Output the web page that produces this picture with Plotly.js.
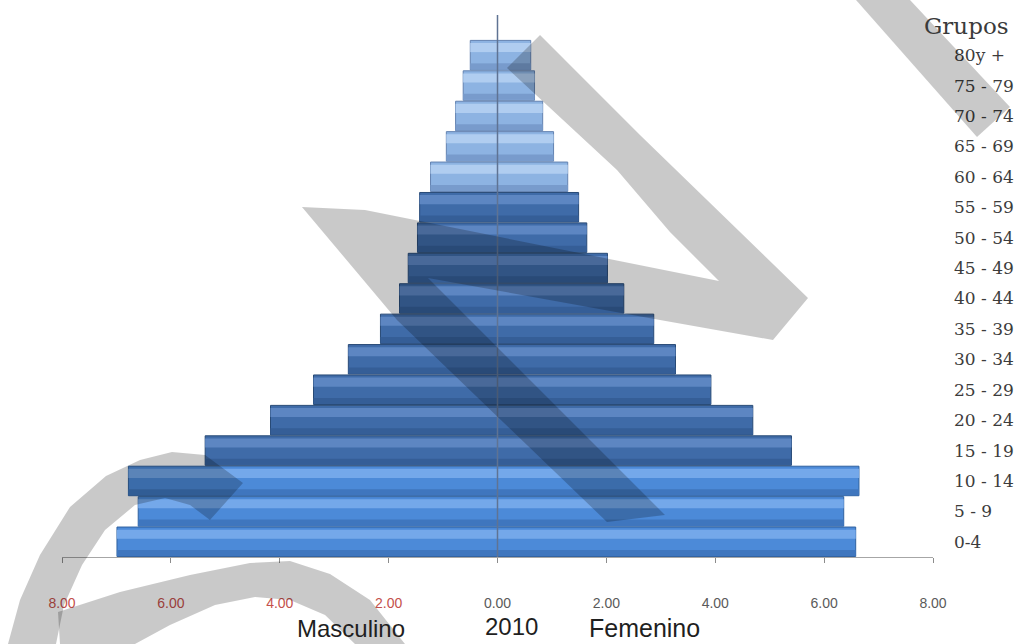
<!DOCTYPE html>
<html><head><meta charset="utf-8">
<script src="https://cdn.plot.ly/plotly-3.0.1.min.js"></script>
<style>html,body{margin:0;padding:0;background:#fff}#chart{width:1023px;height:644px}</style>
</head><body><div id="chart"></div>
<script>
// ---------- data (bottom to top) ----------
const ageGroups = ['0-4','5 - 9','10 - 14','15 - 19','20 - 24','25 - 29','30 - 34','35 - 39','40 - 44','45 - 49','50 - 54','55 - 59','60 - 64','65 - 69','70 - 74','75 - 79','80y +'];
const masculino = [6.99, 6.60, 6.78, 5.37, 4.17, 3.38, 2.74, 2.15, 1.80, 1.64, 1.47, 1.43, 1.23, 0.94, 0.77, 0.63, 0.50];
const femenino  = [6.58, 6.36, 6.64, 5.40, 4.69, 3.92, 3.27, 2.87, 2.32, 2.02, 1.64, 1.49, 1.29, 1.03, 0.83, 0.68, 0.61];
const tickValues = [-8, -6, -4, -2, 0, 2, 4, 6, 8];
const tickLabels = ['8.00', '6.00', '4.00', '2.00', '0.00', '2.00', '4.00', '6.00', '8.00'];
const leftTitle = 'Masculino', yearTitle = '2010', rightTitle = 'Femenino', groupsTitle = 'Grupos';

// ---------- styles ----------
const W = 1023, H = 644, M = {l: 62, r: 90, t: 15, b: 87};
const PW = W - M.l - M.r, PH = H - M.t - M.b;
const px = v => (v - M.l) / PW;
const py = v => (H - M.b - v) / PH;
function tone(i) { return i < 3 ? 0 : (i < 12 ? 1 : 2); }
const baseCol = ['#4c8ad8', '#3f6ba8', '#8db3e2'];
const hiCol   = ['#74a8ea', '#5d86c2', '#b0cdf0'];
const loCol   = ['#3f76be', '#355e97', '#789bcc'];
const edgeCol = ['#2f619f', '#284a76', '#6382b0'];
const colorsOf = arr => ageGroups.map((_, i) => arr[tone(i)]);

const maleX = masculino.map(v => -v);
function layerTraces(xs) {
  return [
    {type: 'bar', orientation: 'h', x: xs, y: ageGroups, width: 0.97, offset: -0.485,
     marker: {color: colorsOf(baseCol), line: {color: colorsOf(edgeCol), width: 1}}, hoverinfo: 'skip'},
    {type: 'bar', orientation: 'h', x: xs, y: ageGroups, width: 0.3, offset: 0.1,
     marker: {color: colorsOf(hiCol), line: {width: 0}}, hoverinfo: 'skip'},
    {type: 'bar', orientation: 'h', x: xs, y: ageGroups, width: 0.2, offset: -0.47,
     marker: {color: colorsOf(loCol), line: {width: 0}}, hoverinfo: 'skip'}
  ];
}
const data = [...layerTraces(maleX), ...layerTraces(femenino)];

function poly(pts) {
  return 'M' + pts.map(p => px(p[0]).toFixed(4) + ',' + py(p[1]).toFixed(4)).join(' L') + ' Z';
}
const wm = 'rgba(0,0,0,0.21)';
const strokes = [
  // left arc
  [[8,644],[20,600],[40,555],[70,507],[106,476],[140,460],[172,452],[205,455],[243,483],[210,520],[190,505],[165,498],[135,505],[105,530],[82,565],[64,605],[56,644]],
  // lower arch
  [[58,612],[120,592],[190,575],[250,563],[290,561],[330,574],[370,600],[405,644],[355,644],[325,615],[290,600],[255,597],[215,605],[170,625],[135,644],[60,644]],
  // N: diagonal + shallow band + upper diagonal
  [[302,207],[365,210],[719,281],[670,232],[617,170],[507,68],[540,35],[640,135],[808,298],[773,340],[660,320],[428,278],[665,515],[607,522],[397,320]],
  // top right
  [[856,0],[910,0],[1010,107],[977,137]]
];
const shapes = strokes.map(s => ({type: 'path', xref: 'paper', yref: 'paper', path: poly(s),
  fillcolor: wm, line: {width: 0}, layer: 'above'}));
shapes.unshift({type: 'line', xref: 'x', yref: 'paper', x0: 0, x1: 0, y0: 0, y1: 1,
  line: {color: '#5f7393', width: 1.5}, layer: 'above'});

const ticktext = tickLabels.map((t, i) => tickValues[i] < 0 ? '<span style="color:#c4504c">' + t + '</span>' : t);

const annFont = {family: 'Liberation Sans, Arial, sans-serif', size: 24, color: '#1f1f1f'};
const serif = 'DejaVu Serif, Liberation Serif, serif';
const annotations = [
  {text: leftTitle, x: px(351), y: py(628), xref: 'paper', yref: 'paper', showarrow: false, font: annFont, xanchor: 'center', yanchor: 'middle'},
  {text: yearTitle, x: px(512), y: py(626), xref: 'paper', yref: 'paper', showarrow: false, font: annFont, xanchor: 'center', yanchor: 'middle'},
  {text: rightTitle, x: px(644), y: py(628), xref: 'paper', yref: 'paper', showarrow: false,
   font: {family: annFont.family, size: 25, color: annFont.color}, xanchor: 'center', yanchor: 'middle'},
  {text: groupsTitle, x: px(966), y: py(26), xref: 'paper', yref: 'paper', showarrow: false,
   font: {family: serif, size: 23, color: '#3a3a3a'}, xanchor: 'center', yanchor: 'middle'}
];

const layout = {
  width: W, height: H, margin: M, paper_bgcolor: '#ffffff', plot_bgcolor: '#ffffff',
  barmode: 'overlay', showlegend: false, shapes, annotations,
  xaxis: {range: [-8, 8], tickvals: tickValues, ticktext, ticks: 'outside', ticklen: 5, tickcolor: '#8c8c8c',
    tickfont: {family: 'Liberation Sans, Arial, sans-serif', size: 14, color: '#5a5a5a'},
    showline: true, linecolor: '#a6a6a6', linewidth: 1, zeroline: false, showgrid: false,
    ticklabelstandoff: 28, fixedrange: true},
  yaxis: {type: 'category', categoryorder: 'array', categoryarray: ageGroups, range: [-0.5, 17.32],
    side: 'right', showline: false, showgrid: false, zeroline: false, ticks: '',
    tickfont: {family: serif, size: 17, color: '#3c3c3c'},
    ticklabelstandoff: 20, fixedrange: true}
};
Plotly.newPlot('chart', data, layout, {displayModeBar: false, staticPlot: true});
</script></body></html>
